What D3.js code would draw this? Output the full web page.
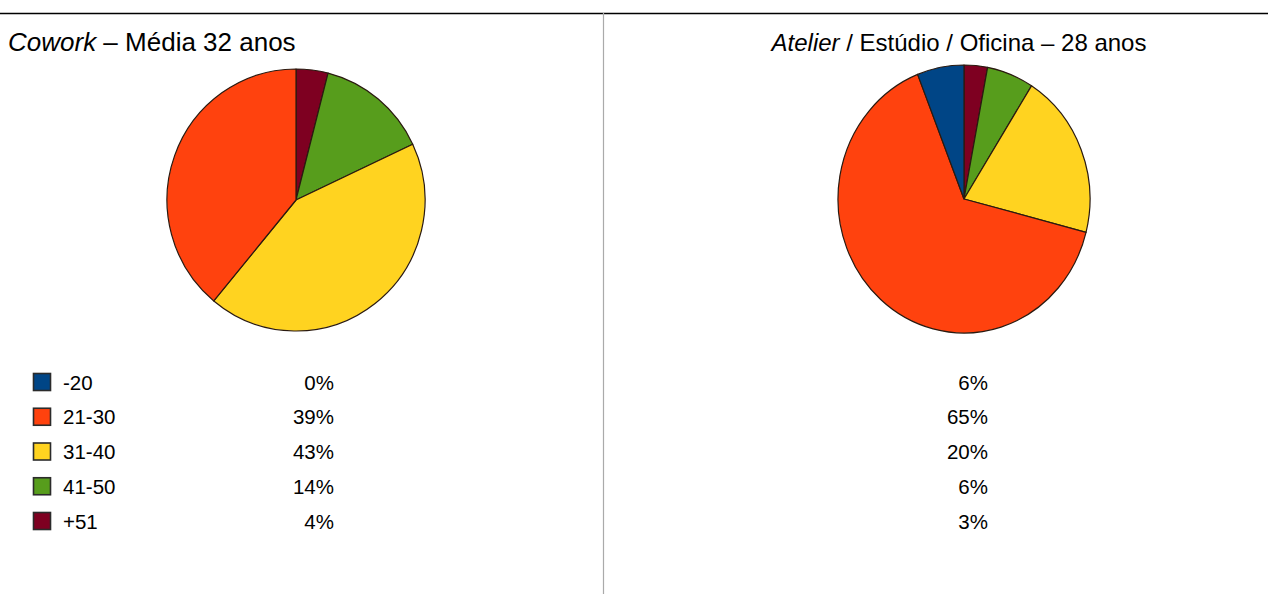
<!DOCTYPE html>
<html>
<head>
<meta charset="utf-8">
<script src="https://cdn.jsdelivr.net/npm/d3@7"></script>
<style>
  html, body { margin: 0; padding: 0; background: #fff; }
  svg { display: block; font-family: "Liberation Sans", Arial, sans-serif; }
</style>
</head>
<body>
<svg id="chart" width="1268" height="594"></svg>
<script>
// Age bands and their shares (%) for each workspace type
const categories = ["-20", "21-30", "31-40", "41-50", "+51"];
const coworkShares = [0, 39, 43, 14, 4];
const atelierShares = [6, 65, 20, 6, 3];
const bandColors = ["#004586", "#ff420e", "#ffd320", "#579d1c", "#7e0021"];

const svg = d3.select("#chart");

// Frame: top rule and the divider between the two panels
svg.append("line").attr("x1", 0).attr("x2", 1268).attr("y1", 13.5).attr("y2", 13.5)
  .attr("stroke", "#000").attr("stroke-width", 1.5);
svg.append("line").attr("x1", 603.5).attr("x2", 603.5).attr("y1", 13).attr("y2", 594)
  .attr("stroke", "#aaa").attr("stroke-width", 1.2);

// Titles (first word italic)
const t1 = svg.append("text").attr("x", 8).attr("y", 51).attr("font-size", 26)
  .attr("fill", "#000");
t1.append("tspan").attr("font-style", "italic").text("Cowork");
t1.append("tspan").text(" – Média 32 anos");

const t2 = svg.append("text").attr("x", 959).attr("y", 51).attr("font-size", 24)
  .attr("text-anchor", "middle").attr("fill", "#000");
t2.append("tspan").attr("font-style", "italic").text("Atelier");
t2.append("tspan").text(" / Estúdio / Oficina – 28 anos");

const color = d3.scaleOrdinal().domain(categories).range(bandColors);

// Slices run clockwise from 12 o'clock starting with the oldest band
const pie = d3.pie().sort(null).value(d => d.value);

function drawPie(values, cx, cy, rx, ry) {
  const rows = categories.map((c, i) => ({ cat: c, value: values[i] })).reverse();
  const arc = d3.arc().innerRadius(0).outerRadius(rx);
  const g = svg.append("g")
    .attr("transform", `translate(${cx},${cy}) scale(1,${ry / rx})`);
  g.selectAll("path")
    .data(pie(rows).filter(d => d.data.value > 0))
    .join("path")
    .attr("d", arc)
    .attr("fill", d => color(d.data.cat))
    .attr("stroke", "#2a1a10")
    .attr("stroke-width", 1.2)
    .attr("vector-effect", "non-scaling-stroke")
    .attr("stroke-linejoin", "round");
}

drawPie(coworkShares, 296, 200, 129, 131);
drawPie(atelierShares, 964, 199, 126, 134);

// Legend with shares for both panels
const rowY = d3.scalePoint().domain(categories).range([382, 521]);
const fs = 20.5;

const legend = svg.append("g");
legend.selectAll("rect")
  .data(categories)
  .join("rect")
  .attr("x", 33.5)
  .attr("y", d => rowY(d) - 8.5)
  .attr("width", 17)
  .attr("height", 17)
  .attr("fill", d => color(d))
  .attr("stroke", "#2b2b2b")
  .attr("stroke-width", 1.6);

legend.selectAll("text.lab")
  .data(categories)
  .join("text")
  .attr("class", "lab")
  .attr("x", 63)
  .attr("y", d => rowY(d) + 7.5)
  .attr("font-size", fs)
  .attr("fill", "#000")
  .text(d => d);

legend.selectAll("text.pc1")
  .data(categories)
  .join("text")
  .attr("class", "pc1")
  .attr("x", 334)
  .attr("y", d => rowY(d) + 7.5)
  .attr("font-size", fs)
  .attr("text-anchor", "end")
  .attr("fill", "#000")
  .text((d, i) => coworkShares[i] + "%");

legend.selectAll("text.pc2")
  .data(categories)
  .join("text")
  .attr("class", "pc2")
  .attr("x", 988)
  .attr("y", d => rowY(d) + 7.5)
  .attr("font-size", fs)
  .attr("text-anchor", "end")
  .attr("fill", "#000")
  .text((d, i) => atelierShares[i] + "%");
</script>
</body>
</html>
